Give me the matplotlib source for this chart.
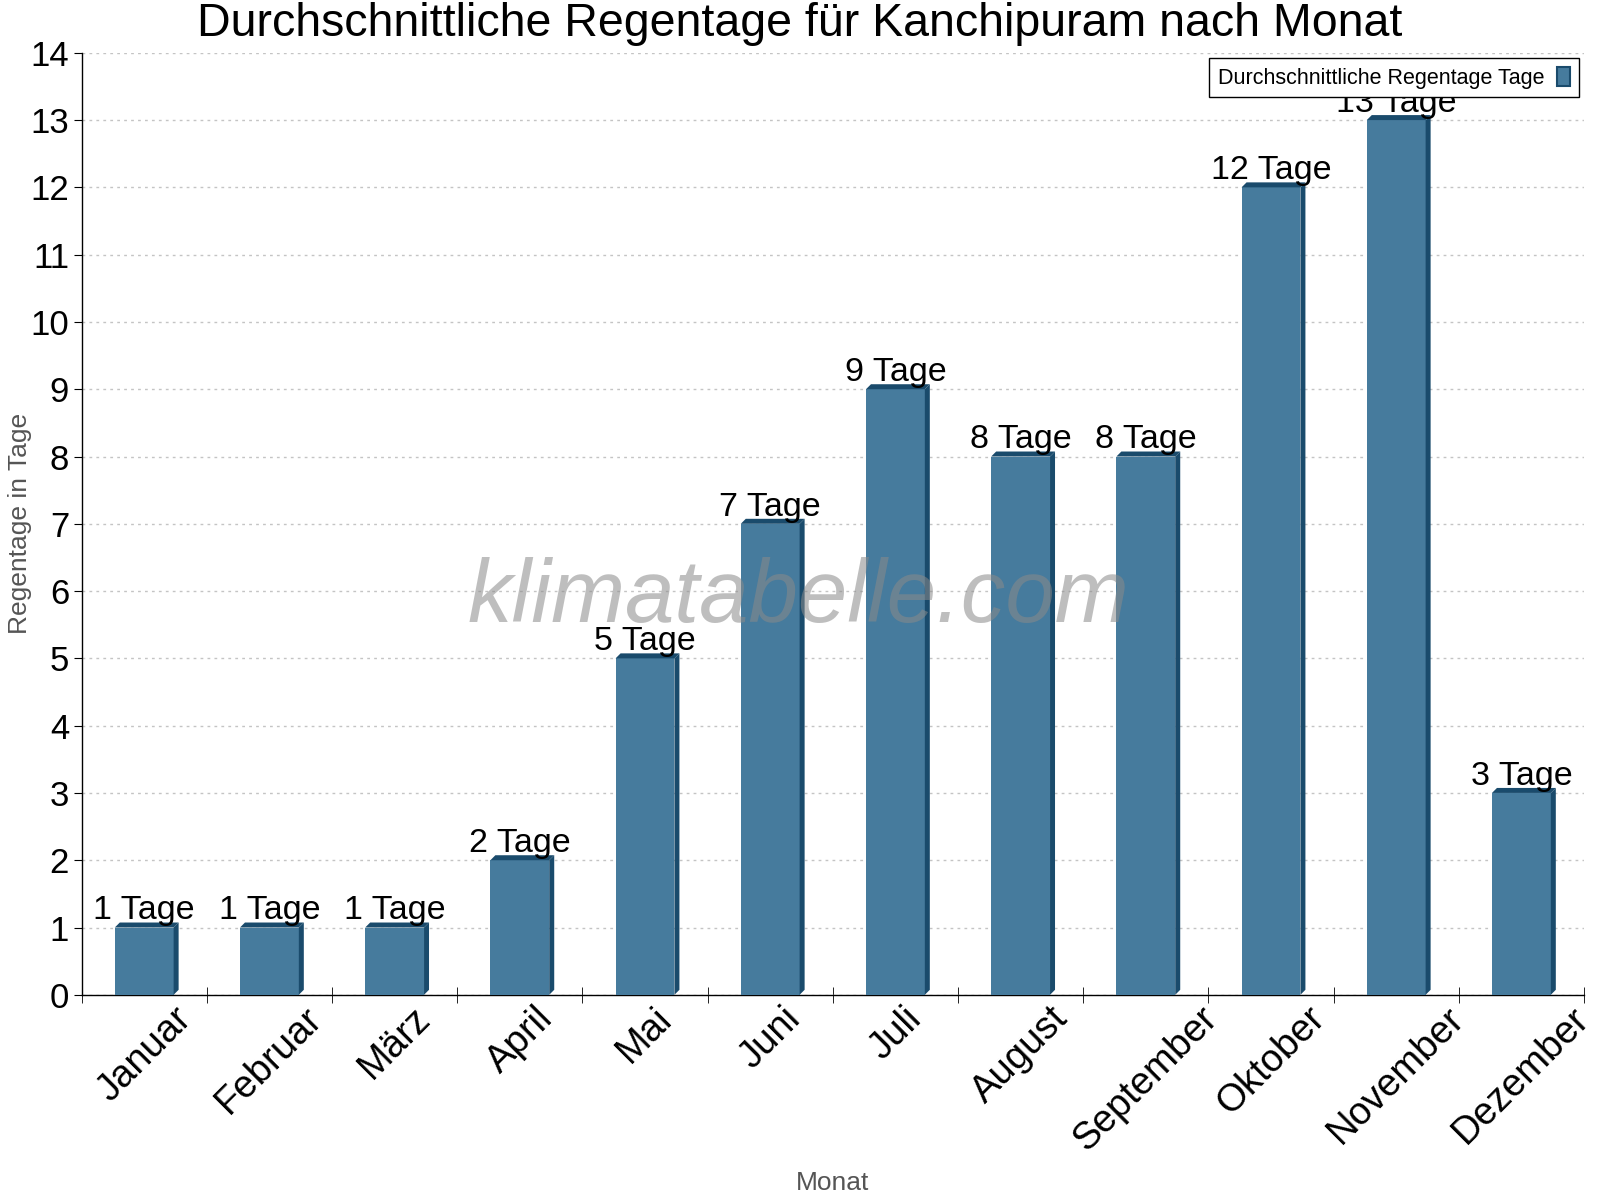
import matplotlib.pyplot as plt
from matplotlib.patches import Polygon, Patch
import numpy as np

plt.rcParams['font.family'] = ['Liberation Sans', 'DejaVu Sans']

# Daten
monate = ['Januar', 'Februar', 'März', 'April', 'Mai', 'Juni', 'Juli',
          'August', 'September', 'Oktober', 'November', 'Dezember']
regentage = [1, 1, 1, 2, 5, 7, 9, 8, 8, 12, 13, 3]

front = '#467b9d'
dunkel = '#1a4b6c'

fig = plt.figure(figsize=(16, 12), dpi=100)
ax = fig.add_axes([0.051, 0.171, 0.939, 0.785])

x = np.arange(len(monate))
breite = 0.47
ax.set_xlim(-0.5, len(monate) - 0.5)
ax.set_ylim(0, 14)

# Tiefe der 3D-Kante in Datenkoordinaten (ca. 5 px)
ax_w = 0.939 * 1600
ax_h = 0.785 * 1200
dx = 5 / (ax_w / len(monate))
dy = 5 / (ax_h / 14)

ax.bar(x, regentage, width=breite, color=front, zorder=3)
for xi, v in zip(x, regentage):
    r = xi + breite / 2
    l = xi - breite / 2
    seite = Polygon([(r, 0), (r + dx, dy), (r + dx, v + dy), (r, v)],
                    closed=True, facecolor=dunkel, edgecolor='none', zorder=3)
    oben = Polygon([(l, v), (l + dx, v + dy), (r + dx, v + dy), (r, v)],
                   closed=True, facecolor=dunkel, edgecolor='none', zorder=3)
    ax.add_patch(seite)
    ax.add_patch(oben)
    ax.text(xi, v + 0.12, f'{v} Tage', ha='center', va='baseline',
            fontsize=24.5, color='black', zorder=5)

# Achsen
ax.set_yticks(range(0, 15))
ax.tick_params(axis='y', labelsize=25, length=6, direction='out', color='black', pad=3)
ax.set_xticks(x)
ax.set_xticklabels(monate, rotation=45, ha='center', va='top', fontsize=27.5)
ax.tick_params(axis='x', which='major', length=0, pad=4)
ax.set_xticks(np.arange(-0.5, len(monate), 1), minor=True)
ax.tick_params(axis='x', which='minor', length=12, direction='inout', color='black')

ax.grid(axis='y', linestyle=(0, (2, 3)), color='#c4c4c4', linewidth=1, zorder=0)
ax.spines['top'].set_visible(False)
ax.spines['right'].set_visible(False)
ax.spines['left'].set_linewidth(1)
ax.spines['bottom'].set_linewidth(1)

ax.set_ylabel('Regentage in Tage', fontsize=19, color='#555555', va='center')
ax.yaxis.set_label_coords(-0.041, 0.5)
ax.set_xlabel('Monat', fontsize=19, color='#555555', va='center')
ax.xaxis.set_label_coords(0.5, -0.2)

# Titel mittig über der ganzen Abbildung
fig.text(0.5, 0.9985, 'Durchschnittliche Regentage für Kanchipuram nach Monat',
         ha='center', va='top', fontsize=33.5)

# Wasserzeichen
ax.text(0.477, 0.42, 'klimatabelle.com', transform=ax.transAxes, ha='center',
        va='center', fontsize=64, style='italic', color='#8a8a8a', alpha=0.55,
        zorder=6)

handle = Patch(facecolor=front, edgecolor=dunkel, linewidth=1.5)
leg = ax.legend([handle], ['Durchschnittliche Regentage Tage'], loc='upper right',
                bbox_to_anchor=(1 - 5 / 1473, 1 - 5 / 923), borderaxespad=0,
                fontsize=15.5, markerfirst=False,
                handlelength=0.6, handleheight=1.0, handletextpad=0.6,
                fancybox=False, edgecolor='black', framealpha=1, borderpad=0.4)
leg.get_frame().set_linewidth(1)
leg.set_zorder(7)

fig.savefig('out.png', dpi=100)
